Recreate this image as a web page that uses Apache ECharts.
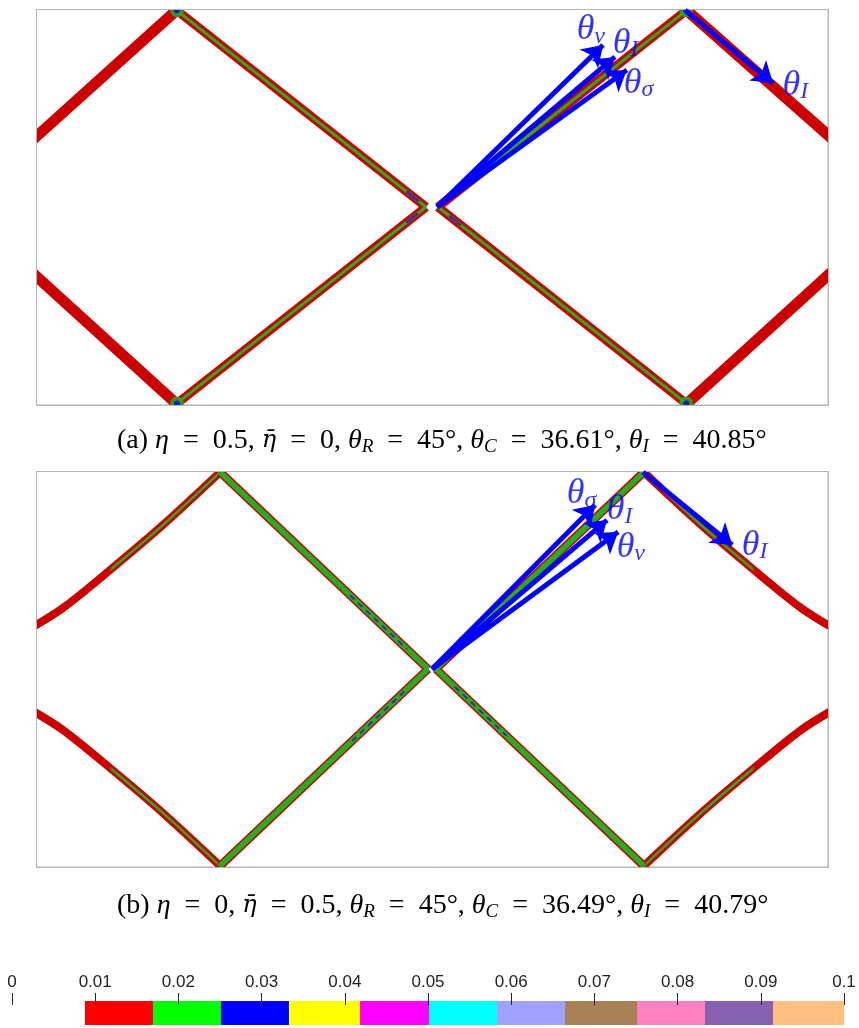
<!DOCTYPE html>
<html>
<head>
<meta charset="utf-8">
<script src="https://cdn.jsdelivr.net/npm/echarts@6/dist/echarts.min.js"></script>
<style>
  html, body { margin: 0; padding: 0; background: #fff; }
  #chart { width: 859px; height: 1028px; }
</style>
</head>
<body>
<div id="chart"></div>
<script>
// Crack paths in domain units: x runs 0..2, y runs 0..1 for each panel.

// Panel (a): eta = 0.5, eta-bar = 0
const crackA_outer = [
  [[-0.02, 0.659], [0.356, 0.998]],
  [[-0.02, 0.344], [0.356, 0.002]],
  [[2.02, 0.664], [1.642, 0.998]],
  [[2.02, 0.346], [1.642, 0.002]]
];
const crackA_inner = [
  [[0.356, 0.996], [0.985, 0.5]],
  [[0.356, 0.004], [0.985, 0.5]],
  [[1.642, 0.996], [1.015, 0.5]],
  [[1.642, 0.004], [1.015, 0.5]]
];
const crackA_tips = [[0.356, 0.997], [0.356, 0.004], [1.642, 0.997], [1.642, 0.004]];
// darker damage cores close to the kink
const crackA_cores = [
  [[0.937, 0.538], [0.965, 0.516]],
  [[0.937, 0.462], [0.962, 0.482]],
  [[1.045, 0.476], [1.071, 0.456]]
];

// Panel (b): eta = 0, eta-bar = 0.5
const crackB_outer = [
  [[-0.02, 0.599], [0.068, 0.654], [0.187, 0.75], [0.321, 0.864], [0.465, 0.997]],
  [[-0.02, 0.401], [0.068, 0.346], [0.187, 0.25], [0.321, 0.136], [0.465, 0.003]],
  [[2.02, 0.599], [1.932, 0.654], [1.813, 0.75], [1.679, 0.864], [1.535, 0.997]],
  [[2.02, 0.401], [1.932, 0.346], [1.813, 0.25], [1.679, 0.136], [1.535, 0.003]]
];
const crackB_inner = [
  [[0.465, 0.997], [0.99, 0.5]],
  [[0.465, 0.003], [0.99, 0.5]],
  [[1.535, 0.997], [1.01, 0.5]],
  [[1.535, 0.003], [1.01, 0.5]]
];
const crackB_cores = [
  [[0.793, 0.686], [0.937, 0.550]],
  [[0.798, 0.318], [0.937, 0.450]],
  [[1.058, 0.455], [1.189, 0.331]]
];

// Direction arrows: shared origin plus tips, and the arrow along the kinked branch
const arrowOriginA = [1.013, 0.5];
const arrowTipsA = [[1.432, 0.909], [1.462, 0.879], [1.492, 0.846]];
const branchArrowA = [[1.639, 0.997], [1.861, 0.813]];
const arrowLabelsA = ['v', 'I', 'σ', 'I'];
const arrowLabelPosA = [[1.364, 0.947], [1.455, 0.914], [1.483, 0.813], [1.884, 0.808]];

const arrowOriginB = [1.0, 0.5];
const arrowTipsB = [[1.412, 0.914], [1.442, 0.876], [1.470, 0.846]];
const branchArrowB = [[1.533, 0.997], [1.758, 0.813]];
const arrowLabelsB = ['σ', 'I', 'v', 'I'];
const arrowLabelPosB = [[1.339, 0.942], [1.440, 0.902], [1.465, 0.808], [1.781, 0.813]];

// Colour bar: cell edges (value units), cell colours
const cbEdges = [0.00877, 0.01695, 0.02512, 0.03329, 0.04183, 0.05012, 0.05829, 0.06647, 0.07512, 0.08329, 0.09147, 0.1];
const cbColors = ['#ff0000', '#00ff00', '#0000ff', '#ffff00', '#ff00ff', '#00ffff', '#a0a0ff', '#a98055', '#ff80c0', '#8860b0', '#ffbf80'];

const RED = '#cc0000';
const GREEN = '#22b022';
const BLUE = '#0000ff';
const CORE = '#2038a8';
const SERIF = '"Liberation Serif", "DejaVu Serif", serif';

function path(grid, pts, color, width, cap, smooth) {
  return {
    type: 'line', xAxisIndex: grid, yAxisIndex: grid, data: pts,
    symbol: 'none', showSymbol: false, silent: true, animation: false, smooth: smooth || false,
    lineStyle: { color: color, width: width, cap: cap || 'round', join: 'round' }
  };
}

// green core that only shows on the part of a branch nearest its apex
function apexCore(pts) {
  const towardRight = pts[pts.length - 1][0] > pts[0][0];
  const g = new echarts.graphic.LinearGradient(towardRight ? 0 : 1, 0, towardRight ? 1 : 0, 0, [
    { offset: 0, color: 'rgba(34,176,34,0)' },
    { offset: 0.42, color: 'rgba(34,176,34,0)' },
    { offset: 0.44, color: GREEN },
    { offset: 1, color: GREEN }
  ]);
  return path(1, pts, g, 2.5, 'round', 0.3);
}

function arrows(grid, origin, tips, branch) {
  const data = tips.map(t => ({ coords: [origin, t] }));
  data.push({ coords: branch });
  return {
    type: 'lines', coordinateSystem: 'cartesian2d', xAxisIndex: grid, yAxisIndex: grid,
    data: data, symbol: ['none', 'arrow'], symbolSize: 20, silent: true, animation: false, z: 10,
    lineStyle: { color: BLUE, width: 5, opacity: 1, curveness: 0 }
  };
}

const thetaRich = {
  t: { fontFamily: SERIF, fontStyle: 'italic', fontSize: 36, lineHeight: 38, color: BLUE },
  s: { fontFamily: SERIF, fontStyle: 'italic', fontSize: 24, lineHeight: 20, color: BLUE, verticalAlign: 'bottom' }
};

function thetaLabels(grid, pos, subs) {
  return {
    type: 'scatter', xAxisIndex: grid, yAxisIndex: grid, symbolSize: 1, silent: true, animation: false, z: 20,
    itemStyle: { color: 'rgba(0,0,0,0)' },
    data: pos.map((p, i) => ({ value: p, label: { formatter: '{t|θ}{s|' + subs[i] + '}' } })),
    label: { show: true, position: 'right', distance: 0, rich: thetaRich }
  };
}

const series = [];
// panel (a)
crackA_outer.forEach(p => series.push(path(0, p, RED, 11)));
crackA_inner.forEach(p => series.push(path(0, p, RED, 9, 'butt')));
crackA_inner.forEach(p => series.push(path(0, p, GREEN, 3, 'butt')));
crackA_cores.forEach(p => series.push(path(0, p, CORE, 2.5)));
series.push({
  type: 'scatter', xAxisIndex: 0, yAxisIndex: 0, data: crackA_tips, symbolSize: 14, silent: true, animation: false,
  itemStyle: { color: GREEN }, z: 3
});
series.push({
  type: 'scatter', xAxisIndex: 0, yAxisIndex: 0, data: crackA_tips, symbolSize: 6, silent: true, animation: false,
  itemStyle: { color: BLUE }, z: 3
});
series.push(arrows(0, arrowOriginA, arrowTipsA, branchArrowA));
series.push(thetaLabels(0, arrowLabelPosA, arrowLabelsA));

// panel (b)
crackB_outer.forEach(p => series.push(path(1, p, RED, 8, 'round', 0.3)));
crackB_outer.forEach(p => series.push(apexCore(p)));
crackB_inner.forEach(p => series.push(path(1, p, RED, 8.5, 'butt')));
crackB_inner.forEach(p => series.push(path(1, p, GREEN, 5.5, 'butt')));
crackB_cores.forEach(p => {
  const s = path(1, p, CORE, 2, 'butt');
  s.lineStyle.type = [6, 5];
  series.push(s);
});
series.push(arrows(1, arrowOriginB, arrowTipsB, branchArrowB));
series.push(thetaLabels(1, arrowLabelPosB, arrowLabelsB));

// colour bar cells (axis y: 0 at bar bottom, 1 at tick baseline)
series.push({
  type: 'custom', xAxisIndex: 2, yAxisIndex: 2, silent: true, animation: false, clip: false,
  data: cbColors.map((c, i) => [cbEdges[i], cbEdges[i + 1], i]),
  encode: { x: [0, 1] },
  renderItem: function (params, api) {
    const p0 = api.coord([api.value(0), 1.2]);
    const p1 = api.coord([api.value(1), 0]);
    return {
      type: 'rect',
      shape: { x: p0[0], y: p0[1], width: p1[0] - p0[0], height: p1[1] - p0[1] },
      style: { fill: cbColors[api.value(2)] }
    };
  }
});

const capRich = {
  n: { fontFamily: SERIF, fontWeight: 'normal', fontSize: 28, lineHeight: 30, color: '#000' },
  i: { fontFamily: SERIF, fontWeight: 'normal', fontStyle: 'italic', fontSize: 28, lineHeight: 30, color: '#000' },
  m: { fontFamily: '"DejaVu Serif", serif', fontWeight: 'normal', fontStyle: 'italic', fontSize: 24, lineHeight: 30, color: '#000' },
  b: { fontFamily: SERIF, fontWeight: 'normal', fontStyle: 'italic', fontSize: 19, lineHeight: 18, color: '#000', verticalAlign: 'bottom' }
};
const EQ = '\u2002=\u2002';
const captionA = '{n|(a) }{i|η}{n|' + EQ + '0.5, }{m|η\u0304}{n|' + EQ + '0, }{i|θ}{b|R}{n|' + EQ + '45°, }{i|θ}{b|C}{n|' + EQ + '36.61°, }{i|θ}{b|I}{n|' + EQ + '40.85°}';
const captionB = '{n|(b) }{i|η}{n|' + EQ + '0, }{m|η\u0304}{n|' + EQ + '0.5, }{i|θ}{b|R}{n|' + EQ + '45°, }{i|θ}{b|C}{n|' + EQ + '36.49°, }{i|θ}{b|I}{n|' + EQ + '40.79°}';

const panelGrid = { show: true, borderColor: '#b4b4b4', borderWidth: 1, backgroundColor: '#fff' };
const hiddenX = g => ({ gridIndex: g, type: 'value', min: 0, max: 2, show: false });
const hiddenY = g => ({ gridIndex: g, type: 'value', min: 0, max: 1, show: false });

// white frame strips hiding stroke overhang outside each panel box
function frame(L, T, R, B) {
  const t = 14;
  const s = { fill: '#fff' };
  return [
    { type: 'rect', z: 5, silent: true, shape: { x: L - t, y: T - t, width: t, height: B - T + 2 * t }, style: s },
    { type: 'rect', z: 5, silent: true, shape: { x: R + 1, y: T - t, width: t, height: B - T + 2 * t }, style: s },
    { type: 'rect', z: 5, silent: true, shape: { x: L - t, y: T - t, width: R - L + 2 * t, height: t }, style: s },
    { type: 'rect', z: 5, silent: true, shape: { x: L - t, y: B + 1, width: R - L + 2 * t, height: t }, style: s },
    { type: 'rect', z: 6, silent: true, shape: { x: L + 0.5, y: T + 0.5, width: R - L, height: B - T }, style: { fill: null, stroke: '#b4b4b4', lineWidth: 1 } }
  ];
}

const option = {
  backgroundColor: '#fff',
  animation: false,
  title: [
    { left: 117, top: 426, padding: 0, z: 8, text: captionA, textStyle: { rich: capRich } },
    { left: 117, top: 891, padding: 0, z: 8, text: captionB, textStyle: { rich: capRich } }
  ],
  graphic: [].concat(frame(36, 9, 828, 405), frame(36, 471, 828, 867)),
  grid: [
    Object.assign({ left: 36, top: 9, width: 792, height: 396 }, panelGrid),
    Object.assign({ left: 36, top: 471, width: 792, height: 396 }, panelGrid),
    { left: 12, top: 1005, width: 832, height: 20 }
  ],
  xAxis: [
    hiddenX(0), hiddenX(1),
    {
      gridIndex: 2, type: 'value', position: 'top', min: 0, max: 0.1, interval: 0.01, z: 10,
      axisLine: { show: false, onZero: false },
      splitLine: { show: false },
      axisTick: { show: true, inside: false, length: 12, lineStyle: { color: '#222', width: 1 } },
      axisLabel: {
        margin: 14, color: '#222', fontSize: 17,
        fontFamily: '"Liberation Sans Narrow", "Liberation Sans", sans-serif',
        formatter: v => String(+v.toFixed(2))
      }
    }
  ],
  yAxis: [hiddenY(0), hiddenY(1), hiddenY(2)],
  series: series
};

const chart = echarts.init(document.getElementById('chart'), null, { renderer: 'canvas' });
chart.setOption(option);
</script>
</body>
</html>
